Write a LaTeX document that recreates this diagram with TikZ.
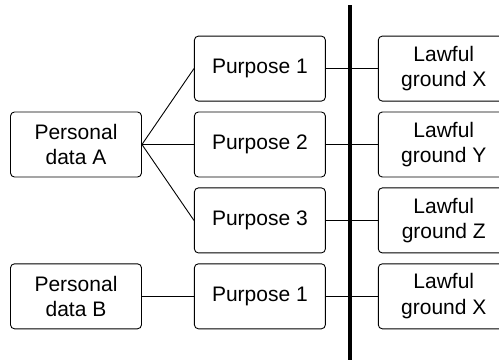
\documentclass[tikz,border=0pt]{standalone}
\usepackage{fontspec}
\setmainfont{Liberation Sans}
\usetikzlibrary{positioning}
\tikzstyle{roundbox}=
[
	rectangle
	, rounded corners=4pt
	, minimum width=131pt
	, minimum height=65pt
	, align=center
	, draw=black
	, line width=0.9pt
	, fill=white
	, font=\fontsize{21}{25.5}\selectfont
]
\tikzstyle{link} = [line width=0.9pt,-]
\tikzstyle{divider} = [line width=3.5pt,-]

\begin{document}
\begin{tikzpicture}[x=1pt,y=1pt,node distance=10pt and 52pt]
\useasboundingbox (0,0) rectangle (499,-360);
\clip (0,0) rectangle (499,-360);

\node(pda)[roundbox] at (76,-144.5){Personal\\data A};
\node(pur2)[roundbox, right=of pda]{Purpose 2};
\node(pur1)[roundbox, above=of pur2]{Purpose 1};
\node(pur3)[roundbox, below=of pur2]{Purpose 3};
\node(pur4)[roundbox, below=of pur3]{Purpose 1};
\node(pdb)[roundbox, left=of pur4]{Personal\\data B};

\node(law1)[roundbox, right=of pur1]{Lawful\\ground X};
\node(law2)[roundbox, right=of pur2]{Lawful\\ground Y};
\node(law3)[roundbox, right=of pur3]{Lawful\\ground Z};
\node(law4)[roundbox, right=of pur4]{Lawful\\ground X};

\draw[link](pda.east)--(pur1.west);
\draw[link](pda.east)--(pur2.west);
\draw[link](pda.east)--(pur3.west);
\draw[link](pdb)--(pur4);

\draw[link](pur1)--(law1);
\draw[link](pur2)--(law2);
\draw[link](pur3)--(law3);
\draw[link](pur4)--(law4);

\coordinate(bartop) at (350,-5);
\coordinate(barbot) at (350,-360);
\draw[divider](bartop)--(barbot);

\end{tikzpicture}
\end{document}
